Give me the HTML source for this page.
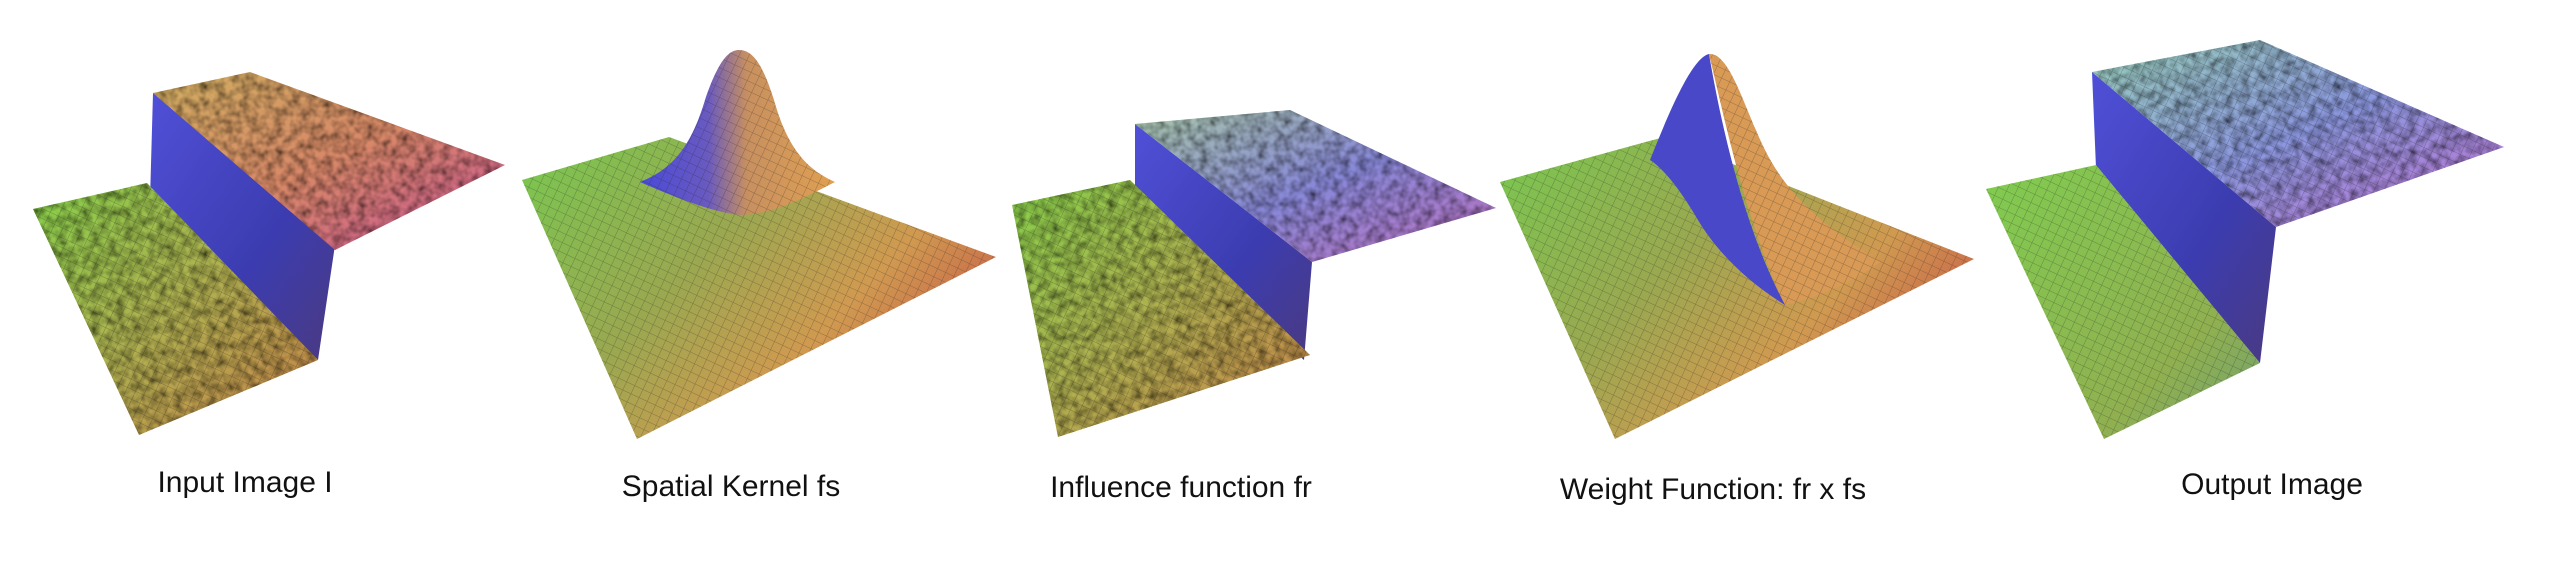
<!DOCTYPE html>
<html><head><meta charset="utf-8"><style>
html,body{margin:0;padding:0;background:#fff;}
svg{display:block}
text{font-family:"Liberation Sans",sans-serif;font-size:30px;fill:#111;}
</style></head><body>
<svg width="2562" height="564" viewBox="0 0 2562 564">
<defs>
  <linearGradient id="gGreen" x1="0" y1="0" x2="1" y2="1">
    <stop offset="0" stop-color="#86d04a"/><stop offset="0.5" stop-color="#b0b050"/><stop offset="1" stop-color="#c88048"/>
  </linearGradient>
  <linearGradient id="gWall" x1="0" y1="0" x2="1" y2="1">
    <stop offset="0" stop-color="#5050d8"/><stop offset="0.6" stop-color="#3c3cb0"/><stop offset="1" stop-color="#4a3a80"/>
  </linearGradient>
  <linearGradient id="gTop1" x1="0" y1="0" x2="1" y2="1">
    <stop offset="0" stop-color="#d0b060"/><stop offset="0.5" stop-color="#d88868"/><stop offset="1" stop-color="#c85098"/>
  </linearGradient>
  <linearGradient id="gTop3" x1="0" y1="0" x2="1" y2="1">
    <stop offset="0" stop-color="#a8c8a8"/><stop offset="0.5" stop-color="#8888d8"/><stop offset="1" stop-color="#c070c0"/>
  </linearGradient>
  <linearGradient id="gTop5" x1="0" y1="0" x2="1" y2="1">
    <stop offset="0" stop-color="#98d0b8"/><stop offset="0.5" stop-color="#8c98e0"/><stop offset="1" stop-color="#c070d0"/>
  </linearGradient>
  <linearGradient id="gPlane" x1="0" y1="0" x2="1" y2="0.6">
    <stop offset="0" stop-color="#78c850"/><stop offset="0.45" stop-color="#9aa850"/><stop offset="0.75" stop-color="#d09a50"/><stop offset="1" stop-color="#c86048"/>
  </linearGradient>
  <linearGradient id="gPeak" x1="0" y1="0" x2="1" y2="0">
    <stop offset="0" stop-color="#4a4ad8"/><stop offset="0.35" stop-color="#6a5ac0"/><stop offset="0.55" stop-color="#c89060"/><stop offset="1" stop-color="#e0a050"/>
  </linearGradient>
  <linearGradient id="gLower5" x1="0" y1="0" x2="1" y2="1">
    <stop offset="0" stop-color="#80cc50"/><stop offset="0.7" stop-color="#90b050"/><stop offset="1" stop-color="#70a070"/>
  </linearGradient>
  <pattern id="mesh" width="9" height="9" patternUnits="userSpaceOnUse" patternTransform="rotate(25)">
    <path d="M0 0H9M0 0V9" stroke="#222" stroke-width="1" opacity="0.35"/>
  </pattern>
  <filter id="noise" x="0" y="0" width="1" height="1">
    <feTurbulence type="fractalNoise" baseFrequency="0.12" numOctaves="2" seed="3" result="n"/>
    <feColorMatrix in="n" type="matrix" values="0 0 0 0 0  0 0 0 0 0  0 0 0 0 0  0 0 0 -1.4 1.0" result="a"/>
    <feComposite in="a" in2="SourceGraphic" operator="in" result="c"/>
    <feBlend in="SourceGraphic" in2="c" mode="multiply"/>
  </filter>
</defs>

<!-- Panel 1 -->
<g>
  <polygon points="153,93 335,245 318,360 150,200" fill="url(#gWall)"/>
  <polygon points="153,93 250,72 505,165 335,250" fill="url(#gTop1)" filter="url(#noise)"/>
  <polygon points="33,209 147,183 318,360 139,435" fill="url(#gGreen)" filter="url(#noise)"/>
  <polygon points="33,209 147,183 318,360 139,435" fill="url(#mesh)"/>
  <text x="245" y="492" text-anchor="middle">Input Image I</text>
</g>

<!-- Panel 2 -->
<g>
  <polygon points="522,180 669,137 996,257 637,439" fill="url(#gPlane)"/>
  <polygon points="522,180 669,137 996,257 637,439" fill="url(#mesh)"/>
  <path d="M640,182 C670,170 690,150 705,100 C718,62 728,50 739,50 C752,50 762,62 774,100 C788,150 808,170 835,182 C800,200 770,215 740,215 C710,212 670,195 640,182 Z" fill="url(#gPeak)"/>
  <path d="M640,182 C670,170 690,150 705,100 C718,62 728,50 739,50 C752,50 762,62 774,100 C788,150 808,170 835,182 C800,200 770,215 740,215 C710,212 670,195 640,182 Z" fill="url(#mesh)"/>
  <text x="731" y="496" text-anchor="middle">Spatial Kernel fs</text>
</g>

<!-- Panel 3 -->
<g>
  <polygon points="1135,124 1312,262 1304,360 1135,215" fill="url(#gWall)"/>
  <polygon points="1135,124 1290,110 1496,208 1312,262" fill="url(#gTop3)" filter="url(#noise)"/>
  <polygon points="1012,205 1130,180 1310,355 1058,437" fill="url(#gGreen)" filter="url(#noise)"/>
  <polygon points="1012,205 1130,180 1310,355 1058,437" fill="url(#mesh)"/>
  <text x="1181" y="497" text-anchor="middle">Influence function fr</text>
</g>

<!-- Panel 4 -->
<g>
  <polygon points="1500,182 1664,137 1974,259 1615,439" fill="url(#gPlane)"/>
  <polygon points="1500,182 1664,137 1974,259 1615,439" fill="url(#mesh)"/>
  <path d="M1709,54 C1730,52 1745,110 1765,150 C1790,200 1830,230 1880,262 C1850,285 1810,300 1785,305 C1745,220 1725,120 1709,54 Z" fill="#d89a55"/>
  <path d="M1709,54 C1730,52 1745,110 1765,150 C1790,200 1830,230 1880,262 C1850,285 1810,300 1785,305 C1745,220 1725,120 1709,54 Z" fill="url(#mesh)"/>
  <path d="M1650,160 C1670,110 1692,58 1709,54 C1722,130 1745,230 1785,305 C1745,280 1715,250 1695,215 C1680,190 1665,170 1650,160 Z" fill="#4848c8"/>
  <text x="1713" y="499" text-anchor="middle">Weight Function: fr x fs</text>
</g>

<!-- Panel 5 -->
<g>
  <polygon points="2092,72 2276,227 2260,363 2096,168" fill="url(#gWall)"/>
  <polygon points="2092,72 2260,40 2504,147 2276,227" fill="url(#gTop5)" filter="url(#noise)"/>
  <polygon points="2092,72 2260,40 2504,147 2276,227" fill="url(#mesh)"/>
  <polygon points="1986,189 2096,165 2260,363 2104,439" fill="url(#gLower5)"/>
  <polygon points="1986,189 2096,165 2260,363 2104,439" fill="url(#mesh)"/>
  <text x="2272" y="494" text-anchor="middle">Output Image</text>
</g>
</svg>
</body></html>
